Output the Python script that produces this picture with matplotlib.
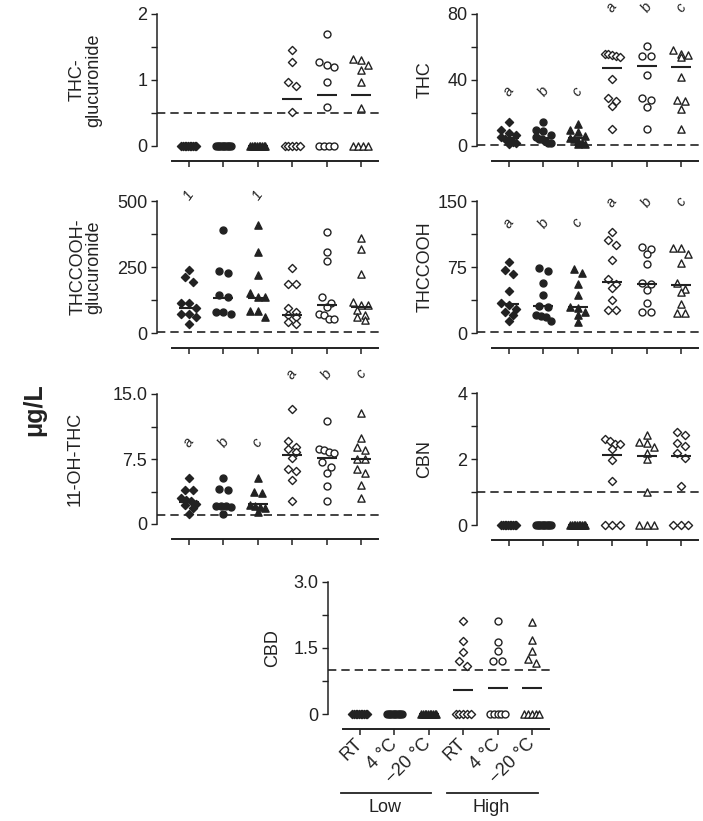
import numpy as np
import matplotlib
matplotlib.use('Agg')
import matplotlib.pyplot as plt
import matplotlib.transforms as mtransforms

plt.rcParams['font.family'] = ['Liberation Sans', 'DejaVu Sans']
INK = '#222222'

# ---- data (µg/L), groups: Low RT, 4 °C, -20 °C, High RT, 4 °C, -20 °C ----
group_labels = ['RT', '4 °C', '\u221220 °C', 'RT', '4 °C', '\u221220 °C']

thcg = [[0, 0, 0, 0, 0, 0, 0, 0, 0, 0],
        [0, 0, 0, 0, 0, 0, 0, 0, 0, 0],
        [0, 0, 0, 0, 0, 0, 0, 0, 0, 0],
        [1.45, 1.28, 0.97, 0.91, 0.52, 0, 0, 0, 0, 0],
        [1.69, 1.27, 1.23, 1.19, 0.97, 0.59, 0, 0, 0, 0],
        [1.32, 1.30, 1.23, 1.15, 0.97, 0.58, 0, 0, 0, 0]]
thcg_med = [0, 0, 0, 0.71, 0.78, 0.77]

thc = [[14.6, 9.5, 8.0, 6.5, 5.5, 4.5, 3.5, 2.5, 2.0, 1.5],
       [14.6, 9.5, 9.3, 6.5, 5.5, 4.5, 4.0, 3.0, 2.0, 1.8],
       [13.6, 9.5, 8.5, 6.0, 5.0, 4.5, 3.0, 2.0, 1.5, 1.0],
       [56, 55.5, 55, 54.5, 54, 40.5, 29, 27.5, 24, 10],
       [60.8, 54.5, 54.5, 43, 28.8, 27.7, 23.7, 10],
       [58, 56, 55, 54, 42, 28, 27.5, 22.7, 10]]
thc_med = [5.1, 5.1, 5.0, 47.4, 48.4, 48]

thccg = [[237, 212, 193, 114, 114, 95, 73, 73, 61, 35],
         [391, 235, 227, 143, 136, 80, 80, 71],
         [410, 307, 221, 151, 136, 136, 83, 83, 61],
         [247, 186, 186, 93, 81, 68, 59, 43, 34],
         [384, 306, 274, 138, 115, 97, 71, 68, 53, 53],
         [361, 317, 222, 119, 106, 106, 87, 68, 62, 49]]
thccg_med = [95, 134, 133, 68, 105, 100]

thcc = [[81, 72, 67, 48, 34, 32, 27, 24, 20, 14],
        [74, 71, 57, 43, 31, 29.5, 20, 19, 18, 13.6],
        [73, 68.6, 56, 43, 29, 28, 24, 20, 12.5],
        [115, 106, 100, 83, 61, 56, 51.5, 37, 26.5, 25.8],
        [97.7, 95, 89.4, 78.8, 56.8, 56.0, 48.5, 34, 24, 24],
        [97, 97, 90, 79, 57, 50.4, 46.6, 33, 22.7, 22.7]]
thcc_med = [32.6, 30.3, 29.2, 58, 55.3, 54.2]

ohthc = [[5.3, 3.9, 3.9, 3.0, 2.8, 2.6, 2.3, 2.2, 1.9, 1.1],
         [5.3, 4.0, 3.9, 2.1, 2.1, 2.1, 2.0, 1.1],
         [5.3, 3.75, 3.56, 2.2, 2.03, 1.95, 1.9, 1.4],
         [13.3, 9.6, 8.9, 8.6, 8.35, 7.65, 6.3, 6.1, 5.1, 2.6],
         [11.9, 8.6, 8.5, 8.3, 8.2, 7.2, 6.6, 5.85, 4.4, 2.6],
         [12.8, 9.96, 8.9, 8.5, 7.46, 7.46, 6.4, 5.9, 4.5, 3.0]]
ohthc_med = [2.5, 2.1, 2.3, 8.0, 7.65, 7.5]

cbn = [[0, 0, 0, 0, 0, 0, 0, 0, 0, 0],
       [0, 0, 0, 0, 0, 0, 0, 0, 0, 0],
       [0, 0, 0, 0, 0, 0, 0, 0, 0, 0],
       [2.6, 2.56, 2.45, 2.45, 2.29, 1.97, 1.33, 0, 0, 0],
       [2.73, 2.53, 2.5, 2.37, 2.19, 1.99, 1.01, 0, 0, 0],
       [2.83, 2.73, 2.5, 2.4, 2.17, 2.02, 1.18, 0, 0, 0]]
cbn_med = [0, 0, 0, 2.12, 2.09, 2.09]

cbd = [[0, 0, 0, 0, 0, 0, 0, 0, 0, 0],
       [0, 0, 0, 0, 0, 0, 0, 0, 0, 0],
       [0, 0, 0, 0, 0, 0, 0, 0, 0, 0],
       [2.11, 1.66, 1.40, 1.21, 1.09, 0, 0, 0, 0, 0],
       [2.11, 1.64, 1.43, 1.20, 1.20, 0, 0, 0, 0, 0],
       [2.09, 1.69, 1.44, 1.26, 1.16, 0, 0, 0, 0, 0]]
cbd_med = [0, 0, 0, 0.54, 0.60, 0.59]

MARKERS = ['D', 'o', '^', 'D', 'o', '^']
SIZES = {'D': 17, 'o': 25, '^': 27}
FS = 13

W, H = 703, 821
fig = plt.figure(figsize=(W / 100, H / 100), dpi=100)
XLIM = (0.07, 6.6)
AXW = 224.6


def swarm(vals, ppu, d=8.5, maxhalf=7.5):
    # simple column-scatter spreading, in pixels
    vals = np.asarray(vals, float)
    order = np.argsort(-vals, kind='stable')
    xs = np.zeros(len(vals))
    rows = []
    for i in order:
        y = vals[i] * ppu
        if rows and abs(rows[-1][0] - y) < 0.75 * d:
            rows[-1][1].append(i)
        else:
            rows.append([y, [i]])
    for y0, idx in rows:
        n = len(idx)
        if n > 1:
            step = min(d, 2 * maxhalf / (n - 1))
            xs[idx] = (np.arange(n) - (n - 1) / 2) * step
    return xs


def panel(left, y0, ph, groups, med, ymax, ticks, ticklabels, lod, ylabel, labelx,
          markers=MARKERS, letters=None, xlabels=False):
    ax = fig.add_axes([left / W, 1 - y0 / H, AXW / W, ph / H])

    # spines first: moving a spine resets the ticks
    for s in ['top', 'right']:
        ax.spines[s].set_visible(False)
    ax.spines['bottom'].set_position(('outward', 10.8))
    ax.spines['bottom'].set_bounds(0.5, 6.5)
    ax.spines['bottom'].set_color(INK)
    ax.spines['bottom'].set_linewidth(1.4)
    ax.spines['left'].set_bounds(0, ymax)
    ax.spines['left'].set_color(INK)
    ax.spines['left'].set_linewidth(1.1)

    xpx = AXW / (XLIM[1] - XLIM[0])
    ppu = ph / ymax
    for i, vals in enumerate(groups):
        x = i + 1 + swarm(vals, ppu) / xpx
        m = markers[i]
        ax.scatter(x, vals, marker=m, s=SIZES[m], facecolor=INK if i < 3 else 'white',
                   edgecolor=INK, linewidth=1.0, zorder=3, clip_on=False)
        ax.hlines(med[i], i + 1 - 0.29, i + 1 + 0.29, color=INK, lw=1.5, zorder=4)
    ax.axhline(lod, color=INK, lw=1.2, dashes=(5, 3), zorder=1)

    ax.set_xlim(*XLIM)
    ax.set_ylim(0, ymax)
    ax.set_yticks(ticks)
    ax.set_yticklabels(ticklabels)
    ax.set_yticks([(a + b) / 2 for a, b in zip(ticks[:-1], ticks[1:])], minor=True)
    ax.set_xticks(range(1, 7))
    ax.tick_params(axis='y', which='both', length=4, width=1, color=INK,
                   labelsize=FS, labelcolor=INK, pad=3)
    ax.tick_params(axis='x', length=4, width=1.1, color=INK, labelsize=FS,
                   labelcolor=INK, pad=5)
    if xlabels:
        ax.set_xticklabels(group_labels, rotation=45, ha='right', va='center',
                           rotation_mode='anchor')
    else:
        ax.set_xticklabels([])

    ax.set_ylabel(ylabel, fontsize=FS, color=INK, va='center', ha='center',
                  multialignment='center', linespacing=0.95)
    ax.yaxis.set_label_coords(labelx, 0.5)

    if letters:
        for gx, gy, txt in letters:
            ax.text(gx, gy, txt, rotation=55, ha='center', va='center', fontsize=10.5,
                    style='italic', color=INK)
    return ax


abc_low = ['a', 'b', 'c']

panel(157, 146, 132, thcg, thcg_med, 2, [0, 1, 2], ['0', '1', '2'], 0.5,
      'THC-\nglucuronide', -0.32)

panel(477, 146, 132, thc, thc_med, 80, [0, 40, 80], ['0', '40', '80'], 0.5, 'THC', -0.232,
      letters=[(i + 1, 33, abc_low[i]) for i in range(3)] +
              [(i + 4, 84, abc_low[i]) for i in range(3)])

panel(157, 333, 132, thccg, thccg_med, 500, [0, 250, 500], ['0', '250', '500'], 2,
      'THCCOOH-\nglucuronide', -0.316,
      letters=[(1, 522, '1'), (3, 522, '1')])

panel(477, 333, 132, thcc, thcc_med, 150, [0, 75, 150], ['0', '75', '150'], 1,
      'THCCOOH', -0.232,
      letters=[(i + 1, 125, abc_low[i]) for i in range(3)] +
              [(i + 4, 149, abc_low[i]) for i in range(3)])

panel(157, 524, 130, ohthc, ohthc_med, 15, [0, 7.5, 15], ['0', '7.5', '15.0'], 1,
      '11-OH-THC', -0.365,
      letters=[(i + 1, 9.4, abc_low[i]) for i in range(3)] +
              [(i + 4, 17.3, abc_low[i]) for i in range(3)])

panel(477, 525, 132, cbn, cbn_med, 4, [0, 2, 4], ['0', '2', '4'], 1, 'CBN', -0.232,
      markers=['D', 'o', '^', 'D', '^', 'D'])

ax = panel(328, 714, 132, cbd, cbd_med, 3, [0, 1.5, 3], ['0', '1.5', '3.0'], 1, 'CBD',
           -0.245, xlabels=True)

# Low / High group brackets under the CBD panel
tr = mtransforms.blended_transform_factory(ax.transData, ax.transAxes)
ax.plot([0.44, 3.06], [-0.6, -0.6], transform=tr, clip_on=False, color=INK, lw=1.3)
ax.plot([3.53, 6.18], [-0.6, -0.6], transform=tr, clip_on=False, color=INK, lw=1.3)
ax.text(1.74, -0.705, 'Low', transform=tr, ha='center', va='center', fontsize=FS, color=INK)
ax.text(4.82, -0.705, 'High', transform=tr, ha='center', va='center', fontsize=FS, color=INK)

fig.text(34 / W, 1 - 410 / H, '\u03bcg/L', rotation=90, fontsize=18, fontweight='bold',
         ha='center', va='center', color=INK)

fig.savefig('out.png', dpi=100, facecolor='white')
